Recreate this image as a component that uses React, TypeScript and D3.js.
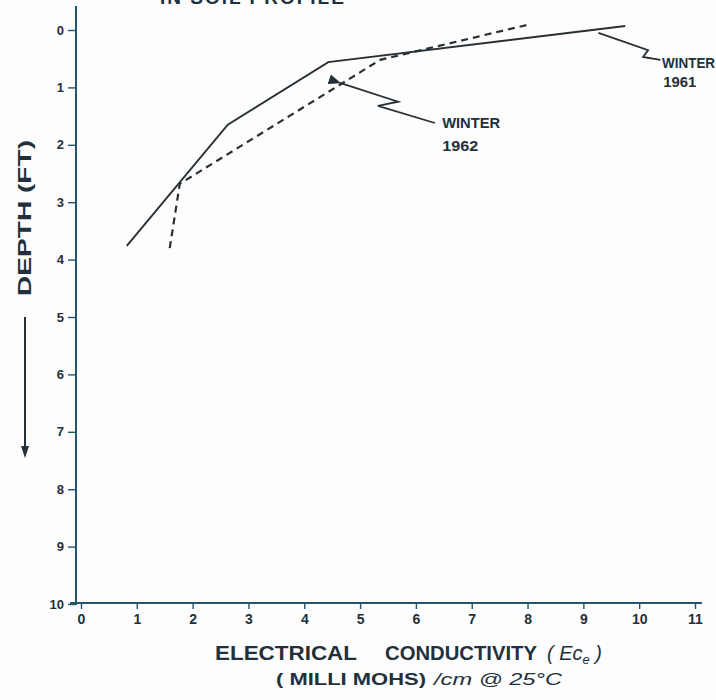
import React, { useEffect, useRef } from 'react';
import * as d3 from 'd3';

// Values (depth in feet, EC in mmhos/cm)
const conductivity1961 = [0.82, 2.63, 4.43, 9.75];
const depth1961 = [3.76, 1.65, 0.56, -0.07];
const conductivity1962 = [1.59, 1.77, 5.36, 8.0];
const depth1962 = [3.8, 2.68, 0.52, -0.09];

const xTicks = [0, 1, 2, 3, 4, 5, 6, 7, 8, 9, 10, 11];
const yTicks = [0, 1, 2, 3, 4, 5, 6, 7, 8, 9, 10];

// leader lines for the hand lettered labels, in data units
const leader1962x = [4.64, 5.68, 5.32, 6.34];
const leader1962y = [0.92, 1.25, 1.32, 1.62];
const leader1961x = [9.27, 10.16, 10.07, 10.38];
const leader1961y = [0.05, 0.35, 0.47, 0.52];

const W = 716;
const H = 700;
const INK = '#283035';
const AXIS = '#24566a';
const TEXT = '#22303c';

export default function App() {
  const svgRef = useRef<SVGSVGElement>(null);

  useEffect(() => {
    if (!svgRef.current) return;
    const svg = d3.select(svgRef.current);
    svg.selectAll('*').remove();

    const x = d3.scaleLinear().domain([0, 11]).range([81, 695]);
    const y = d3.scaleLinear().domain([0, 10]).range([30, 604]);
    const font = '"Liberation Sans", Arial, sans-serif';

    svg.append('rect').attr('width', W).attr('height', H).attr('fill', '#fdfdfd');

    // title, cut off by the top edge of the scan
    svg.append('text')
      .attr('x', 160).attr('y', 4)
      .attr('font-family', font).attr('font-size', 19).attr('font-weight', 'bold')
      .attr('fill', TEXT).style('letter-spacing', '2px')
      .text('IN  SOIL  PROFILE');

    // y axis
    const gy = svg.append('g').attr('transform', 'translate(76,0)');
    gy.call(d3.axisLeft(y).tickValues(yTicks).tickSize(8).tickPadding(4).tickFormat(d3.format('d')));
    gy.select('.domain').remove();
    gy.selectAll('line').attr('stroke', AXIS).attr('stroke-width', 1.4);
    gy.selectAll('text').attr('font-family', font).attr('font-size', 13).attr('font-weight', 'bold').attr('fill', TEXT);
    gy.append('line').attr('x1', 0).attr('x2', 0).attr('y1', 6).attr('y2', 605)
      .attr('stroke', AXIS).attr('stroke-width', 2);

    // x axis
    const gx = svg.append('g').attr('transform', 'translate(0,603)');
    gx.call(d3.axisBottom(x).tickValues(xTicks).tickSize(6).tickPadding(5).tickFormat(d3.format('d')));
    gx.select('.domain').remove();
    gx.selectAll('line').attr('stroke', AXIS).attr('stroke-width', 1.4);
    gx.selectAll('text').attr('font-family', font).attr('font-size', 14).attr('font-weight', 'bold').attr('fill', TEXT);
    gx.append('line').attr('x1', 70).attr('x2', 702).attr('y1', 0).attr('y2', 0)
      .attr('stroke', AXIS).attr('stroke-width', 2);

    const line = d3.line<[number, number]>().x(d => x(d[0])).y(d => y(d[1]));

    // Winter 1961 (solid)
    svg.append('path')
      .attr('d', line(d3.zip(conductivity1961, depth1961) as [number, number][]))
      .attr('fill', 'none').attr('stroke', INK).attr('stroke-width', 1.9);

    // Winter 1962 (dashed)
    svg.append('path')
      .attr('d', line(d3.zip(conductivity1962, depth1962) as [number, number][]))
      .attr('fill', 'none').attr('stroke', INK).attr('stroke-width', 2.2)
      .attr('stroke-dasharray', '7 5');

    // leaders
    svg.append('defs').append('marker')
      .attr('id', 'arr').attr('viewBox', '0 0 10 10').attr('refX', 1).attr('refY', 5)
      .attr('markerWidth', 7).attr('markerHeight', 7).attr('orient', 'auto-start-reverse')
      .append('path').attr('d', 'M10,1 L0,5 L10,9 Z').attr('fill', INK);

    svg.append('path')
      .attr('d', line(d3.zip(leader1962x, leader1962y) as [number, number][]))
      .attr('fill', 'none').attr('stroke', INK).attr('stroke-width', 1.8)
      .attr('marker-start', 'url(#arr)');
    svg.append('path')
      .attr('d', line(d3.zip(leader1961x, leader1961y) as [number, number][]))
      .attr('fill', 'none').attr('stroke', INK).attr('stroke-width', 1.8);

    const label = (xv: number, yv: number, t: string, len: number) =>
      svg.append('text').attr('x', x(xv)).attr('y', y(yv))
        .attr('font-family', font).attr('font-size', 14).attr('font-weight', 'bold')
        .attr('fill', TEXT).attr('textLength', len).attr('lengthAdjust', 'spacingAndGlyphs')
        .text(t);
    label(6.47, 1.71, 'WINTER', 58);
    label(6.47, 2.1, '1962', 36);
    label(10.41, 0.66, 'WINTER', 53);
    label(10.43, 0.99, '1961', 33);

    // axis titles
    const title = (tx: number, ty: number, t: string, len: number, size: number, italic = false) =>
      svg.append('text').attr('x', tx).attr('y', ty)
        .attr('font-family', font).attr('font-size', size)
        .attr('font-weight', italic ? 'normal' : 'bold')
        .attr('font-style', italic ? 'italic' : 'normal')
        .attr('fill', TEXT).attr('textLength', len).attr('lengthAdjust', 'spacingAndGlyphs')
        .text(t);
    title(215, 660, 'ELECTRICAL', 142, 20);
    title(385, 660, 'CONDUCTIVITY', 152, 20);
    const ec = svg.append('text').attr('x', 547).attr('y', 660)
      .attr('font-family', font).attr('font-size', 20).attr('font-style', 'italic')
      .attr('fill', TEXT);
    ec.append('tspan').text('( Ec');
    ec.append('tspan').attr('font-size', 13).attr('dy', 4).text('e');
    ec.append('tspan').attr('dy', -4).text(' )');

    title(276, 685, '( MILLI   MOHS)', 150, 17);
    title(434, 685, '/cm  @ 25°C', 128, 17, true);

    svg.append('text')
      .attr('transform', 'translate(31,218) rotate(-90)')
      .attr('text-anchor', 'middle')
      .attr('font-family', font).attr('font-size', 19).attr('font-weight', 'bold')
      .attr('fill', TEXT).attr('textLength', 156).attr('lengthAdjust', 'spacingAndGlyphs')
      .text('DEPTH  (FT)');

    // depth arrow
    svg.append('line').attr('x1', 25).attr('x2', 25).attr('y1', 317).attr('y2', 452)
      .attr('stroke', INK).attr('stroke-width', 2);
    svg.append('path').attr('d', 'M21,446 L25,458 L29,446 Z').attr('fill', INK);
  }, []);

  return (
    <svg ref={svgRef} width={W} height={H}
      style={{ position: 'absolute', left: 0, top: 0, background: '#fff' }} />
  );
}
